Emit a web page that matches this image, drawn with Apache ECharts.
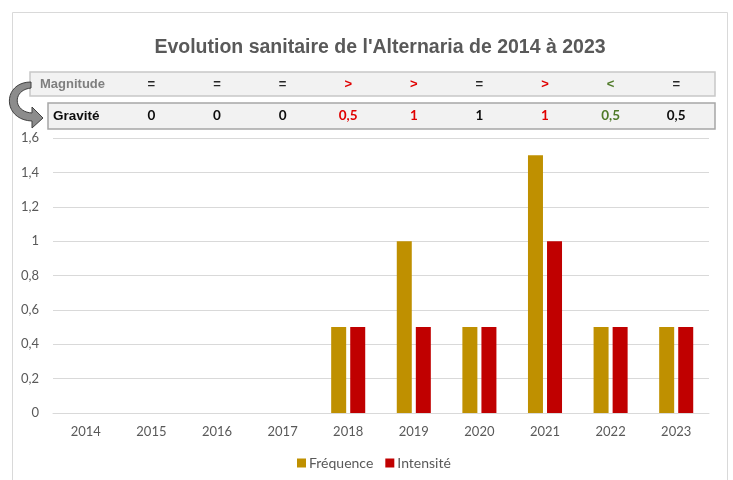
<!DOCTYPE html>
<html>
<head>
<meta charset="utf-8">
<script src="https://cdn.jsdelivr.net/npm/echarts@6/dist/echarts.min.js"></script>
<style>
  html, body { margin: 0; padding: 0; background: #fff; }
  #chart { width: 733px; height: 480px; }
</style>
</head>
<body>
<div id="chart"></div>
<script>
var years = ['2014', '2015', '2016', '2017', '2018', '2019', '2020', '2021', '2022', '2023'];
var frequence = [0, 0, 0, 0, 0.5, 1, 0.5, 1.5, 0.5, 0.5];
var intensite = [0, 0, 0, 0, 0.5, 0.5, 0.5, 1, 0.5, 0.5];
// ligne du tableau, de 2015 a 2023
var tableYears = ['2015', '2016', '2017', '2018', '2019', '2020', '2021', '2022', '2023'];
var magnitude = ['=', '=', '=', '>', '>', '=', '>', '<', '='];
var gravite = ['0', '0', '0', '0,5', '1', '1', '1', '0,5', '0,5'];

var signColor = { '=': '#262626', '>': '#e00000', '<': '#4f7a28' };

var myChart = echarts.init(document.getElementById('chart'));

var option = {
    backgroundColor: '#fff',
    color: ['#bf9000', '#c00000'],
    title: {
        text: "Evolution sanitaire de l'Alternaria de 2014 à 2023",
        left: 375,
        textAlign: 'center',
        top: 33,
        textStyle: {
            fontFamily: 'Liberation Sans',
            fontSize: 19.5,
            fontWeight: 'bold',
            color: '#595959'
        }
    },
    legend: {
        bottom: 5,
        left: 292,
        itemWidth: 9,
        itemHeight: 9,
        itemGap: 12,
        icon: 'rect',
        textStyle: { fontFamily: 'Lato', fontSize: 14, color: '#595959', padding: [0, 0, 0, -2] },
        data: ['Fréquence', 'Intensité']
    },
    grid: {
        left: 53,
        right: 24,
        top: 138,
        bottom: 67
    },
    xAxis: {
        type: 'category',
        data: years,
        axisTick: { show: false },
        axisLine: { lineStyle: { color: '#d9d9d9', width: 1 } },
        axisLabel: { fontFamily: 'Lato', fontSize: 13, color: '#595959', margin: 12 }
    },
    yAxis: {
        type: 'value',
        min: 0,
        max: 1.6,
        interval: 0.2,
        axisLine: { show: false },
        axisTick: { show: false },
        splitLine: { lineStyle: { color: '#d9d9d9', width: 1 } },
        axisLabel: {
            fontFamily: 'Lato', fontSize: 13, color: '#595959', margin: 14,
            formatter: function (v) { return String(Math.round(v * 10) / 10).replace('.', ','); }
        }
    },
    series: [
        { name: 'Fréquence', type: 'bar', data: frequence, barWidth: 15, barGap: '27%' },
        { name: 'Intensité', type: 'bar', data: intensite, barWidth: 15, barGap: '27%' }
    ]
};

myChart.setOption(option);

// fleche courbe : points d'une courbe de Bezier
function bez(p0, p1, p2, p3, n) {
    var pts = [];
    for (var k = 0; k <= n; k++) {
        var t = k / n, u = 1 - t;
        pts.push([
            u * u * u * p0[0] + 3 * u * u * t * p1[0] + 3 * u * t * t * p2[0] + t * t * t * p3[0],
            u * u * u * p0[1] + 3 * u * u * t * p1[1] + 3 * u * t * t * p2[1] + t * t * t * p3[1]
        ]);
    }
    return pts;
}
var arrowPts = bez([31, 82], [2, 82], [2, 120], [32, 121], 20)
    .concat([[32, 128], [43, 118], [32, 107]])
    .concat(bez([32, 113], [13, 112], [12, 90], [31, 88], 20));

// tableau Magnitude / Gravite au-dessus du graphique
var graphics = [
    { type: 'rect', silent: true, shape: { x: 12.5, y: 12.5, width: 715, height: 480 },
      style: { fill: 'none', stroke: '#d9d9d9', lineWidth: 1 } },
    { type: 'rect', shape: { x: 30, y: 72, width: 685, height: 24 },
      style: { fill: '#f2f2f2', stroke: '#c8c8c8', lineWidth: 1.5 } },
    { type: 'rect', shape: { x: 48, y: 103, width: 667, height: 26 },
      style: { fill: '#f2f2f2', stroke: '#a6a6a6', lineWidth: 1.5 } },
    { type: 'polygon', shape: { points: arrowPts },
      style: { fill: '#8c8c8c', stroke: '#404040', lineWidth: 1 } },
    { type: 'text', style: { x: 40, y: 84, text: 'Magnitude', verticalAlign: 'middle',
      font: 'bold 13px "Liberation Sans"', fill: '#7f7f7f' } },
    { type: 'text', style: { x: 53, y: 116, text: 'Gravité', verticalAlign: 'middle',
      font: 'bold 13.5px "Liberation Sans"', fill: '#0d0d0d' } }
];

tableYears.forEach(function (yr, i) {
    var x = myChart.convertToPixel({ xAxisIndex: 0 }, yr);
    var c = signColor[magnitude[i]];
    graphics.push({ type: 'text', style: { x: x, y: 84, text: magnitude[i], align: 'center', verticalAlign: 'middle',
        font: 'bold 13px "Liberation Sans"', fill: c } });
    graphics.push({ type: 'text', style: { x: x, y: 116, text: gravite[i], align: 'center', verticalAlign: 'middle',
        font: 'bold 13.5px Lato', fill: c === '#262626' ? '#0d0d0d' : c } });
});

myChart.setOption({ graphic: graphics });
</script>
</body>
</html>
